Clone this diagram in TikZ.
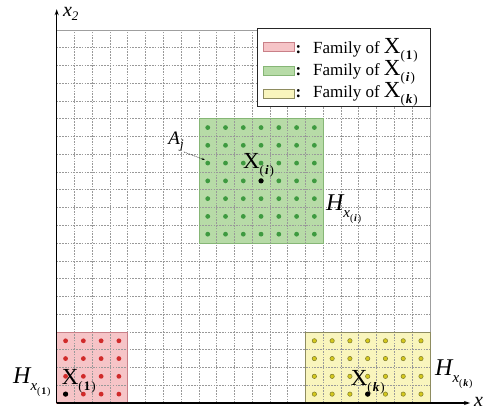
\documentclass[tikz,border=0pt]{standalone}
\usepackage{fontspec}
\setmainfont{Liberation Serif}
\usetikzlibrary{arrows.meta}
\definecolor{pinkfill}{HTML}{F6C4C7}
\definecolor{pinkedge}{HTML}{C98088}
\definecolor{reddot}{HTML}{D02A2A}
\definecolor{greenfill}{HTML}{B7DBA7}
\definecolor{greenedge}{HTML}{86B676}
\definecolor{greendot}{HTML}{3E9A40}
\definecolor{yellowfill}{HTML}{F9F5BD}
\definecolor{yellowedge}{HTML}{8E8C60}
\definecolor{yellowdot}{HTML}{D4C81E}
\definecolor{yellowdotedge}{HTML}{7D7A2A}
\definecolor{gridcol}{HTML}{999999}
\newcommand\bigX[1]{{\fontsize{23}{23}\selectfont X}\raisebox{-6pt}{\fontsize{13}{13}\selectfont(\hspace{1pt}#1\hspace{1pt})}}
\newcommand\Hlab[1]{{\fontsize{24}{24}\selectfont\itshape H}\raisebox{-7pt}{\fontsize{15}{15}\selectfont\itshape x}\raisebox{-11pt}{\fontsize{10}{10}\selectfont(\hspace{0.8pt}#1\hspace{0.8pt})}}
\tikzset{
  gridline/.style={gridcol, line width=0.6pt, dash pattern=on 1.6pt off 1.2pt},
  gridborder/.style={gray!75, line width=0.6pt},
  axisline/.style={black, line width=1.3pt, -{Stealth[length=6pt,width=4pt]}},
  lab/.style={inner sep=0pt, anchor=base west},
  legendbox/.style={draw=black!85, line width=1pt, fill=white},
  swatch/.style={line width=0.5pt},
  pointer/.style={black, line width=0.45pt, dash pattern=on 1pt off 0.8pt, -{Stealth[length=3pt,width=2.4pt]}},
}
\begin{document}
\begin{tikzpicture}[x=17.77pt, y=17.77pt]
\useasboundingbox (-56.7pt,-11pt) rectangle (428.3pt,403pt);
% coloured regions
\fill[pinkfill] (0,0) rectangle (4,4);
\fill[greenfill] (8,9) rectangle (15,16);
\fill[yellowfill] (14,0) rectangle (21,4);
% grid
\foreach \i in {1,...,20} {
  \draw[gridline] (\i,0) -- (\i,21);
  \draw[gridline] (0,\i) -- (21,\i);
}
\draw[gridborder] (0,21) -- (21,21) -- (21,0);
% region outlines
\draw[pinkedge, line width=0.6pt] (0,0) rectangle (4,4);
\draw[greenedge, line width=0.6pt] (8,9) rectangle (15,16);
\draw[yellowedge, line width=0.7pt] (14,0) rectangle (21,4);
% dots
\foreach \i in {0,...,3} \foreach \j in {0,...,3}
  \fill[reddot] (\i+0.5,\j+0.5) circle (2.4pt);
\foreach \i in {8,...,14} \foreach \j in {9,...,15}
  \fill[greendot] (\i+0.5,\j+0.5) circle (2.4pt);
\foreach \i in {14,...,20} \foreach \j in {0,...,3}
  \filldraw[fill=yellowdot, draw=yellowdotedge, line width=0.5pt] (\i+0.5,\j+0.5) circle (2.2pt);
\fill[black] (0.5,0.5) circle (2.6pt);
\fill[black] (11.5,12.5) circle (2.6pt);
\fill[black] (17.5,0.5) circle (2.6pt);
% legend
\draw[legendbox] (11.29,16.67) rectangle (21.05,21.05);
\filldraw[swatch, fill=pinkfill, draw=pinkedge] (11.63,19.82) rectangle (13.35,20.32);
\filldraw[swatch, fill=greenfill, draw=greenedge] (11.63,18.44) rectangle (13.35,18.94);
\filldraw[swatch, fill=yellowfill, draw=yellowedge] (11.63,17.14) rectangle (13.35,17.64);
\node[inner sep=0pt, anchor=base] (c1) at (13.6,19.68) {\fontsize{17}{17}\selectfont\textbf{:}};
\node[inner sep=0pt, anchor=base] (c2) at (13.6,18.43) {\fontsize{17}{17}\selectfont\textbf{:}};
\node[inner sep=0pt, anchor=base] (c3) at (13.6,17.18) {\fontsize{17}{17}\selectfont\textbf{:}};
\node[lab] (l1) at (14.42,19.68) {\fontsize{17}{17}\selectfont Family of \bigX{\textbf{1}}};
\node[lab] (l2) at (14.42,18.43) {\fontsize{17}{17}\selectfont Family of \bigX{\textbf{\textit{i}}}};
\node[lab] (l3) at (14.42,17.18) {\fontsize{17}{17}\selectfont Family of \bigX{\textbf{\textit{k}}}};
% axes
\coordinate (O) at (0,0);
\coordinate (xend) at (23.26,0);
\coordinate (yend) at (0,22.16);
\draw[axisline] (O) -- (xend);
\draw[axisline] (O) -- (yend);
\node[lab] (xlab) at (23.48,-0.22) {\fontsize{20}{20}\selectfont\itshape x};
\node[lab] (ylab) at (0.35,21.74) {\fontsize{20}{20}\selectfont\itshape x\raisebox{-4pt}{\fontsize{13}{13}\selectfont 2}};
% labels
\node[lab] (X1) at (0.28,1.05) {\bigX{\textbf{1}}};
\node[lab] (Xi) at (10.48,13.2) {\bigX{\textbf{\textit{i}}}};
\node[lab] (Xk) at (16.54,1.01) {\bigX{\textbf{\textit{k}}}};
\node[lab] (H1) at (-2.46,1.1) {\Hlab{\textbf{1}}};
\node[lab] (Hi) at (15.15,10.86) {\Hlab{\textbf{\textit{i}}}};
\node[lab] (Hk) at (21.29,1.52) {\Hlab{\textbf{\textit{k}}}};
\node[lab] (Aj) at (6.28,14.52) {{\fontsize{19}{19}\selectfont\itshape A}\raisebox{-4pt}{\fontsize{13}{13}\selectfont\itshape j}};
\coordinate (ajtip) at (8.33,13.68);
\draw[pointer] (Aj.south east) -- (ajtip);
\end{tikzpicture}
\end{document}
